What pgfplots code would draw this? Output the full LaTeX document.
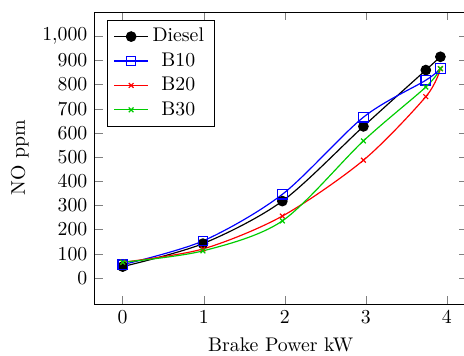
\documentclass[border=0pt]{standalone}
\usepackage{pgfplots}
\pgfplotsset{compat=1.18}
\usetikzlibrary{calc}
\begin{document}
\begin{tikzpicture}
\begin{axis}[
  name=ax,
  scale only axis,
  width=188.6pt, height=147.7pt,
  xmin=-0.35, xmax=4.25,
  ymin=-108, ymax=1100,
  xtick={0,1,2,3,4},
  ytick={0,100,...,1000},
  xlabel={Brake Power kW},
  ylabel={NO ppm},
  every axis plot/.append style={semithick, mark size=2.4pt},
  legend style={at={(0.035,0.973)}, anchor=north west, cells={anchor=center}},
]
\addplot[black, mark=*, mark options={fill=black}, smooth] coordinates {
  (0,47) (0.99,142) (1.97,318) (2.97,627) (3.74,860) (3.92,915)
};
\addlegendentry{Diesel}
\addplot[blue, mark=square, smooth] coordinates {
  (0,55) (0.99,153) (1.97,346) (2.97,665) (3.74,818) (3.92,866)
};
\addlegendentry{B10}
\addplot[red, mark=x, mark size=1.7pt, smooth] coordinates {
  (0,65) (0.99,120) (1.97,256) (2.97,487) (3.74,750) (3.92,866)
};
\addlegendentry{B20}
\addplot[green!80!black, mark=x, mark size=1.7pt, smooth] coordinates {
  (0,65) (0.99,112) (1.97,236) (2.97,567) (3.74,790) (3.92,866)
};
\addlegendentry{B30}
\end{axis}
\pgfresetboundingbox
\path[use as bounding box] ($(ax.south west)+(-47.7pt,-25.9pt)$) rectangle ($(ax.north east)+(-1.6pt,6.1pt)$);
\end{tikzpicture}
\end{document}
